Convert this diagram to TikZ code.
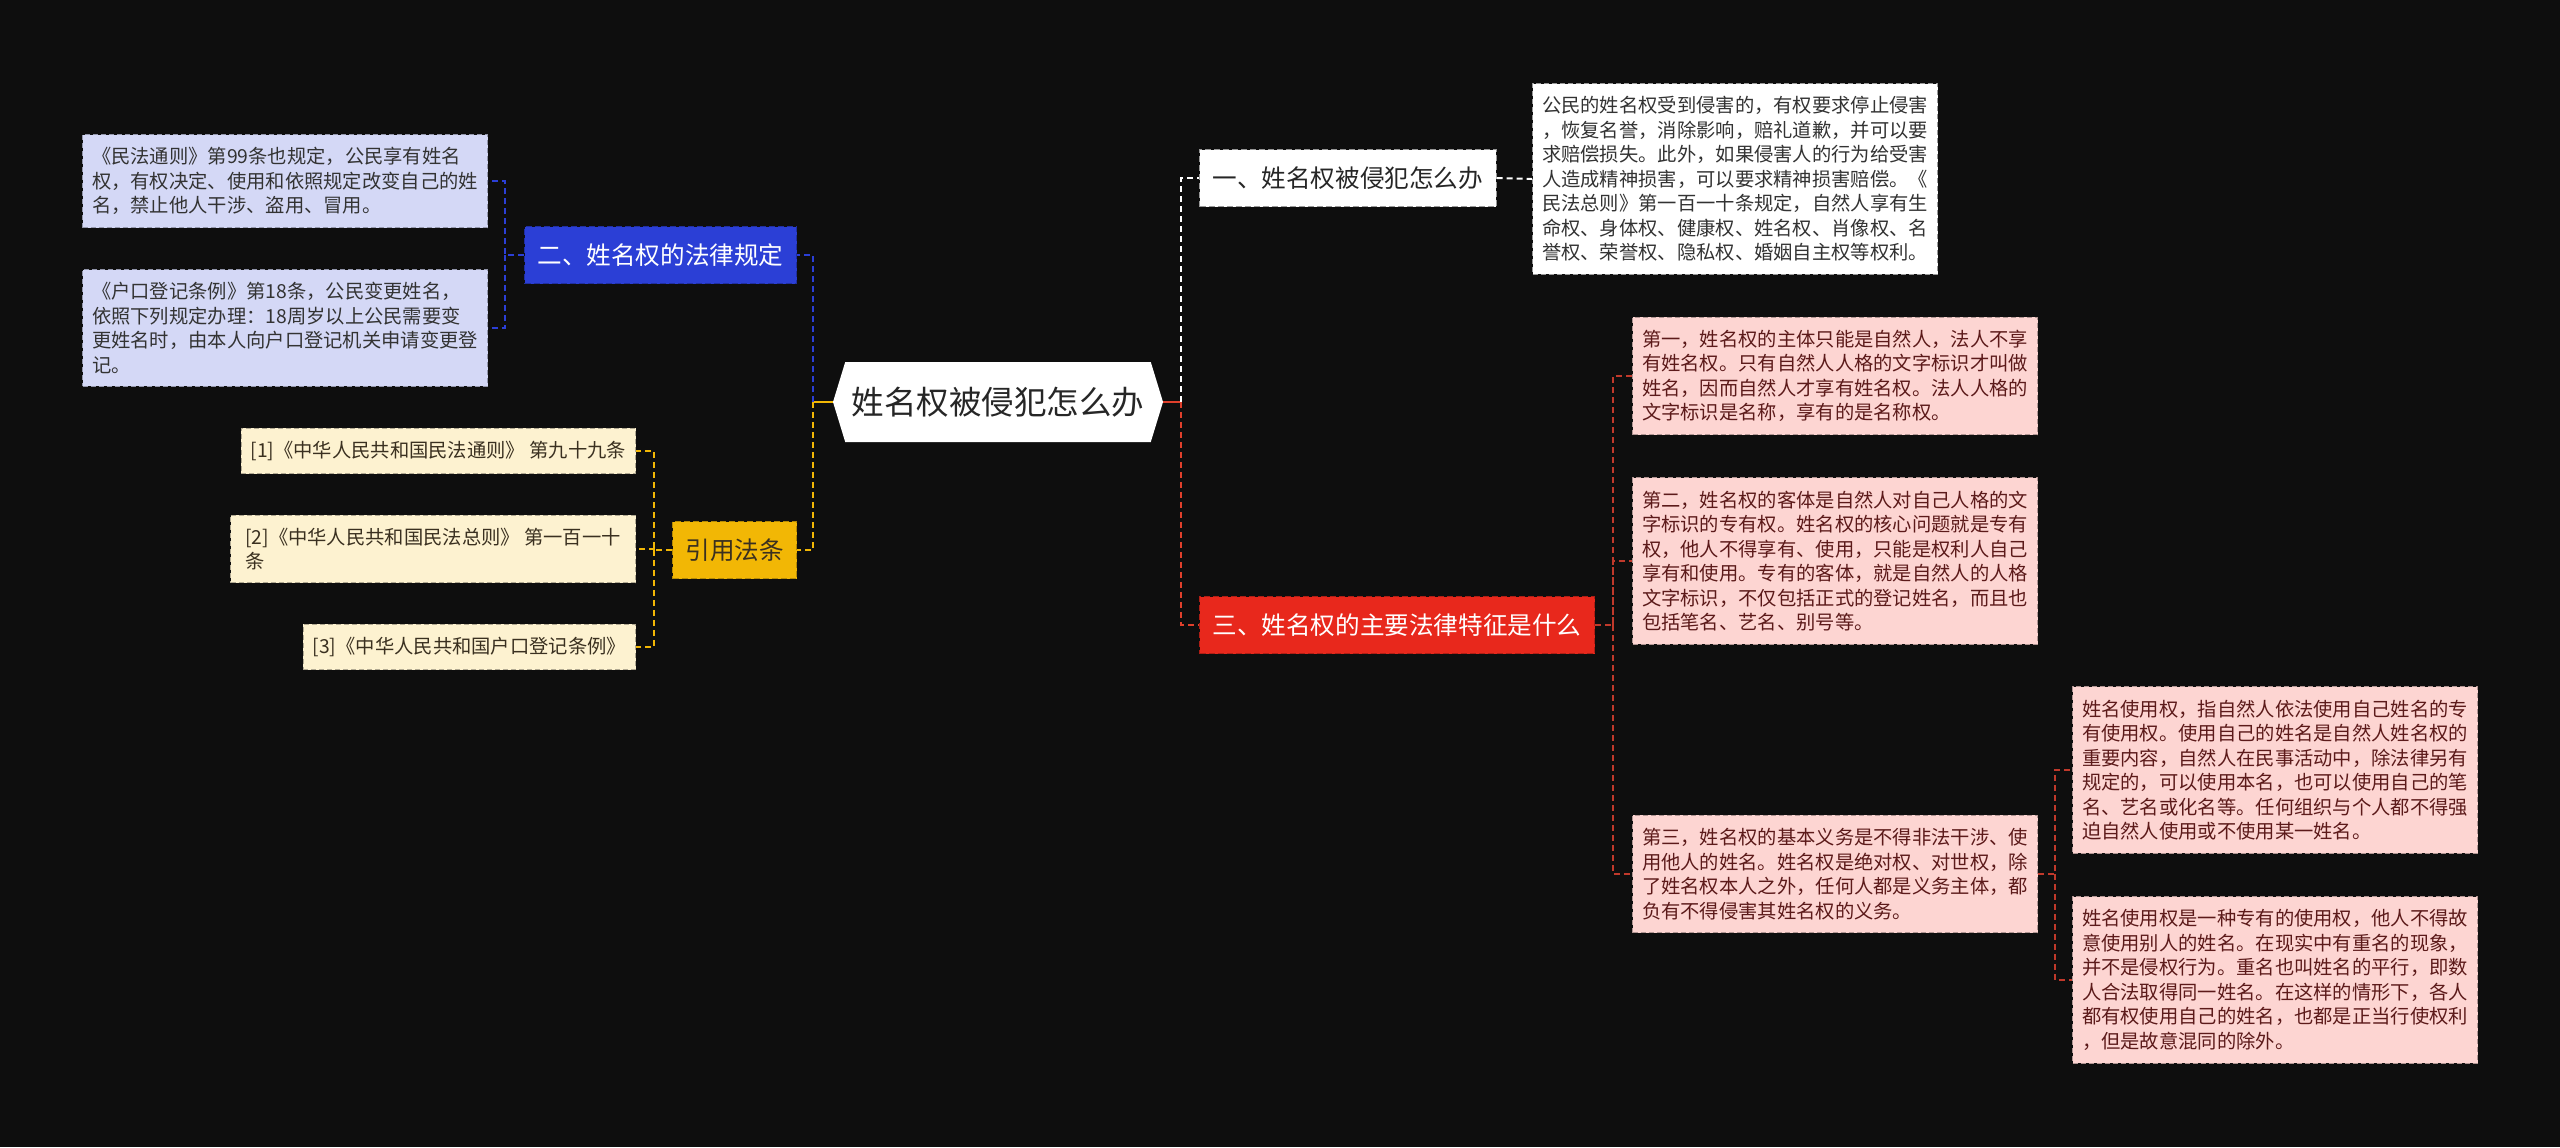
\documentclass[tikz,border=0pt]{standalone}
\usepackage{fontspec}
\newfontfamily\cjk{Noto Sans CJK SC}
\usetikzlibrary{shapes.symbols}
\definecolor{bg}{HTML}{0E0E0E}
\definecolor{bluebox}{HTML}{2B3FD6}
\definecolor{blueleaf}{HTML}{D4D8F6}
\definecolor{yelbox}{HTML}{F2B705}
\definecolor{yelleaf}{HTML}{FDF2D0}
\definecolor{redbox}{HTML}{E8281C}
\definecolor{pinkleaf}{HTML}{FDD5D2}
\definecolor{redline}{HTML}{E0402C}
\definecolor{leafline}{HTML}{C0392B}
\definecolor{leaftext}{HTML}{333333}
\definecolor{pinktext}{HTML}{5C1A1A}
\definecolor{yeltext}{HTML}{3A3020}

\begin{document}
\begin{tikzpicture}[x=0.5pt, y=-0.5pt,
    link/.style={line width=1pt, dash pattern=on 3pt off 2pt},
    root/.style={signal, signal to=east and west, signal pointer angle=146, fill=white, text=black!85,
        font=\cjk\fontsize{16.25pt}{18pt}\selectfont, minimum width=165pt, minimum height=40pt, inner xsep=2pt},
    branch/.style={font=\cjk\fontsize{12.3pt}{14pt}\selectfont, inner xsep=6.5pt, inner ysep=0pt,
        minimum height=28.5pt, line width=0.5pt, dash pattern=on 3pt off 1.5pt},
    leaf/.style={font=\cjk\fontsize{9.65pt}{12.25pt}\selectfont, align=left, inner xsep=4.75pt,
        inner ysep=6.4pt, line width=0.5pt, dash pattern=on 2.5pt off 1.5pt},
    blueleafbox/.style={leaf, fill=blueleaf, draw=blueleaf!70!black, text=leaftext, minimum width=202.5pt},
    yelleafbox/.style={leaf, fill=yelleaf, draw=yelleaf!70!black, text=yeltext},
    pinkleafbox/.style={leaf, fill=pinkleaf, draw=pinkleaf!70!black, text=pinktext, minimum width=202.5pt},
]
    % Hintergrund
    \fill[bg] (0,0) rectangle (2560,1147);
    \useasboundingbox (0,0) rectangle (2560,1147);

    % Zentrum
    \node[root] (root) at (998,402) {姓名权被侵犯怎么办};
    \coordinate (lj) at (813,402);
    \coordinate (rj) at (1181,402);

    % links: gesetzliche Regelung
    \node[branch, fill=bluebox, draw=bluebox!75!black, text=white, anchor=west] (law) at (524,255) {二、姓名权的法律规定};
    \node[blueleafbox, anchor=east] (law1) at (488,181) {《民法通则》第99条也规定，公民享有姓名\\权，有权决定、使用和依照规定改变自己的姓\\名，禁止他人干涉、盗用、冒用。};
    \node[blueleafbox, anchor=east] (law2) at (488,328) {《户口登记条例》第18条，公民变更姓名，\\依照下列规定办理：18周岁以上公民需要变\\更姓名时，由本人向户口登记机关申请变更登\\记。};
    \coordinate (lawj) at (505,255);

    % links: zitierte Artikel
    \node[branch, fill=yelbox, draw=yelbox!75!black, text=yeltext, anchor=west] (cite) at (672,550) {引用法条};
    \node[yelleafbox, anchor=east] (cite1) at (636,451) {[1]《中华人民共和国民法通则》 第九十九条};
    \node[yelleafbox, anchor=east, minimum width=202.5pt] (cite2) at (636,549) {[2]《中华人民共和国民法总则》 第一百一十\\条};
    \node[yelleafbox, anchor=east] (cite3) at (636,647) {[3]《中华人民共和国户口登记条例》};
    \coordinate (citej) at (654,550);

    % rechts: was tun
    \node[branch, fill=white, draw=black!40, text=black!85, anchor=west] (q1) at (1199,178) {一、姓名权被侵犯怎么办};
    \node[leaf, fill=white, draw=black!40, text=leaftext, minimum width=202.5pt, anchor=west] (q1a) at (1532,179) {公民的姓名权受到侵害的，有权要求停止侵害\\，恢复名誉，消除影响，赔礼道歉，并可以要\\求赔偿损失。此外，如果侵害人的行为给受害\\人造成精神损害，可以要求精神损害赔偿。《\\民法总则》第一百一十条规定，自然人享有生\\命权、身体权、健康权、姓名权、肖像权、名\\誉权、荣誉权、隐私权、婚姻自主权等权利。};

    % rechts: Merkmale
    \node[branch, fill=redbox, draw=redbox!75!black, text=white, anchor=west] (q3) at (1199,625) {三、姓名权的主要法律特征是什么};
    \node[pinkleafbox, anchor=west] (q3a) at (1632,376) {第一，姓名权的主体只能是自然人，法人不享\\有姓名权。只有自然人人格的文字标识才叫做\\姓名，因而自然人才享有姓名权。法人人格的\\文字标识是名称，享有的是名称权。};
    \node[pinkleafbox, anchor=west] (q3b) at (1632,561) {第二，姓名权的客体是自然人对自己人格的文\\字标识的专有权。姓名权的核心问题就是专有\\权，他人不得享有、使用，只能是权利人自己\\享有和使用。专有的客体，就是自然人的人格\\文字标识，不仅包括正式的登记姓名，而且也\\包括笔名、艺名、别号等。};
    \node[pinkleafbox, anchor=west] (q3c) at (1632,874) {第三，姓名权的基本义务是不得非法干涉、使\\用他人的姓名。姓名权是绝对权、对世权，除\\了姓名权本人之外，任何人都是义务主体，都\\负有不得侵害其姓名权的义务。};
    \node[pinkleafbox, anchor=west] (q3d) at (2072,770) {姓名使用权，指自然人依法使用自己姓名的专\\有使用权。使用自己的姓名是自然人姓名权的\\重要内容，自然人在民事活动中，除法律另有\\规定的，可以使用本名，也可以使用自己的笔\\名、艺名或化名等。任何组织与个人都不得强\\迫自然人使用或不使用某一姓名。};
    \node[pinkleafbox, anchor=west] (q3e) at (2072,980) {姓名使用权是一种专有的使用权，他人不得故\\意使用别人的姓名。在现实中有重名的现象，\\并不是侵权行为。重名也叫姓名的平行，即数\\人合法取得同一姓名。在这样的情形下，各人\\都有权使用自己的姓名，也都是正当行使权利\\，但是故意混同的除外。};
    \coordinate (q3j) at (1613,625);
    \coordinate (q3cj) at (2055,874);

    % Verbindungen
    \draw[yelbox, line width=1pt] (root.west) -- (lj);
    \draw[link, bluebox] (lj) |- (law.east);
    \draw[link, yelbox] (lj) |- (cite.east);
    \draw[redline, line width=1pt] (root.east) -- (rj);
    \draw[link, white] (rj) |- (q1.west);
    \draw[link, redline] (rj) |- (q3.west);

    \draw[link, bluebox] (law.west) -- (lawj) |- (law1.east);
    \draw[link, bluebox] (lawj) |- (law2.east);
    \draw[link, yelbox] (cite.west) -- (citej) |- (cite1.east);
    \draw[link, yelbox] (citej) |- (cite2.east);
    \draw[link, yelbox] (citej) |- (cite3.east);
    \draw[link, white] (q1.east) -- (q1a.west);
    \draw[link, leafline] (q3.east) -- (q3j) |- (q3a.west);
    \draw[link, leafline] (q3j) |- (q3b.west);
    \draw[link, leafline] (q3j) |- (q3c.west);
    \draw[link, leafline] (q3c.east) -- (q3cj) |- (q3d.west);
    \draw[link, leafline] (q3cj) |- (q3e.west);
\end{tikzpicture}
\end{document}
